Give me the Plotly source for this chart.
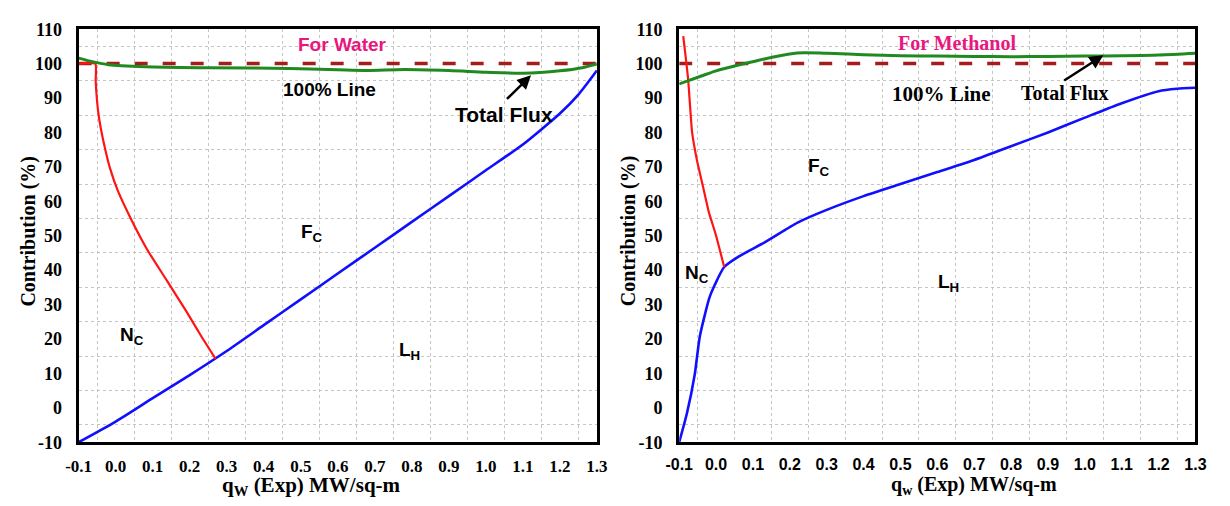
import plotly.graph_objects as go

# ---------------- data ----------------
x_ticks = [-0.1, 0.0, 0.1, 0.2, 0.3, 0.4, 0.5, 0.6, 0.7, 0.8, 0.9, 1.0, 1.1, 1.2, 1.3]
x_tick_text = ["-0.1", "0.0", "0.1", "0.2", "0.3", "0.4", "0.5", "0.6", "0.7", "0.8", "0.9", "1.0", "1.1", "1.2", "1.3"]
y_ticks = [-10, 0, 10, 20, 30, 40, 50, 60, 70, 80, 90, 100, 110]
y_tick_text = ["-10", "0", "10", "20", "30", "40", "50", "60", "70", "80", "90", "100", "110"]
x_grid = [-0.05, 0.05, 0.15, 0.25, 0.35, 0.45, 0.55, 0.65, 0.75, 0.85, 0.95, 1.05, 1.15, 1.25]
y_grid = [-5, 5, 15, 25, 35, 45, 55, 65, 75, 85, 95, 105]

ref_x = [-0.1, 1.3]
ref_y = [100, 100]

# Water
w_nc_x = [-0.1, -0.055, -0.054, -0.051, -0.046, -0.038, -0.028, -0.015, 0.006, 0.043, 0.085, 0.138, 0.191, 0.23, 0.27]
w_nc_y = [100, 100, 95, 90, 85, 80, 75, 69.5, 63, 54.5, 46, 37, 28, 21, 14.2]
w_lh_x = [-0.1, 0.0, 0.1, 0.2, 0.3, 0.4, 0.5, 0.6, 0.7, 0.8, 0.9, 1.0, 1.1, 1.2, 1.25, 1.3]
w_lh_y = [-10, -4, 2.8, 9.5, 16.5, 24, 31.5, 39, 46.5, 54, 61.5, 69, 76.5, 85.5, 91, 98]
w_tot_x = [-0.1, -0.06, -0.02, 0.08, 0.25, 0.47, 0.6, 0.68, 0.78, 0.9, 1.0, 1.1, 1.2, 1.26, 1.3]
w_tot_y = [101.6, 100.5, 99.7, 99.1, 98.8, 98.6, 98.2, 98.0, 98.3, 98.0, 97.5, 97.2, 97.9, 98.8, 99.9]

# Methanol
m_nc_x = [-0.089, -0.076, -0.065, -0.052, -0.036, -0.02, 0.0, 0.022]
m_nc_y = [108, 95.7, 80, 72, 64.5, 57, 50, 40.9]
m_lh_x = [-0.1, -0.079, -0.058, -0.044, -0.018, -0.004, 0.022, 0.062, 0.134, 0.221, 0.3, 0.4, 0.5, 0.6, 0.7, 0.8, 0.9, 1.0, 1.1, 1.2, 1.25, 1.3]
m_lh_y = [-10, -1.6, 9.6, 20.8, 32, 35.6, 40.9, 44, 48.2, 53.8, 57.5, 61.5, 65, 68.5, 72, 76, 80, 84.3, 88.5, 92, 92.7, 93]
m_tot_x = [-0.1, -0.04, 0.0, 0.05, 0.09, 0.15, 0.22, 0.3, 0.4, 0.5, 0.6, 0.7, 0.8, 0.9, 1.0, 1.1, 1.2, 1.3]
m_tot_y = [94.1, 96.4, 97.9, 99.3, 100.3, 101.8, 103.1, 103.0, 102.6, 102.3, 102.2, 102.1, 102.0, 102.1, 102.2, 102.3, 102.5, 103.0]

# ---------------- style ----------------
RED = "#ff1414"
BLUE = "#1010ff"
GREEN = "#208a20"
DASH = "#a51c1c"
PINK = "#e8177e"
SERIF = "Liberation Serif"
SANS = "Liberation Sans"

fig = go.Figure()


def add_panel(xa, ya, nc_x, nc_y, lh_x, lh_y, tot_x, tot_y):
    fig.add_trace(go.Scatter(x=ref_x, y=ref_y, mode="lines", xaxis=xa, yaxis=ya,
                             line=dict(color=DASH, width=3.5, dash="13px,15px")))
    fig.add_trace(go.Scatter(x=lh_x, y=lh_y, mode="lines", xaxis=xa, yaxis=ya,
                             line=dict(color=BLUE, width=2.6, shape="spline", smoothing=0.6)))
    fig.add_trace(go.Scatter(x=nc_x, y=nc_y, mode="lines", xaxis=xa, yaxis=ya,
                             line=dict(color=RED, width=2.2, shape="spline", smoothing=0.5)))
    fig.add_trace(go.Scatter(x=tot_x, y=tot_y, mode="lines", xaxis=xa, yaxis=ya,
                             line=dict(color=GREEN, width=3, shape="spline", smoothing=0.8)))


add_panel("x", "y", w_nc_x, w_nc_y, w_lh_x, w_lh_y, w_tot_x, w_tot_y)
add_panel("x2", "y2", m_nc_x, m_nc_y, m_lh_x, m_lh_y, m_tot_x, m_tot_y)


def bold(labels):
    return ["<b>" + s + "</b>" for s in labels]


def xaxis_cfg(domain, tick_family, tick_size, anchor):
    return dict(domain=domain, anchor=anchor, range=[-0.1, 1.3],
                tickmode="array", tickvals=x_ticks, ticktext=bold(x_tick_text),
                tickfont=dict(family=tick_family, size=tick_size, color="black"),
                showgrid=False, zeroline=False, showline=True, mirror=True,
                linewidth=3, linecolor="black", ticks="", ticklabelstandoff=6,
                minor=dict(tickvals=x_grid, showgrid=True, gridcolor="#c4c4c4",
                           griddash="dot", gridwidth=1, ticks=""))


def yaxis_cfg(anchor):
    return dict(domain=[0.1107, 0.9605], anchor=anchor, range=[-10, 110],
                tickmode="array", tickvals=y_ticks, ticktext=bold(y_tick_text),
                tickfont=dict(family=SERIF, size=18, color="black"),
                showgrid=False, zeroline=False, showline=True, mirror=True,
                linewidth=3, linecolor="black", ticks="", ticklabelstandoff=10,
                minor=dict(tickvals=y_grid, showgrid=True, gridcolor="#c4c4c4",
                           griddash="dot", gridwidth=1, ticks=""))


ann = []


def text(xref, yref, x, y, s, family, size, color="black"):
    ann.append(dict(xref=xref, yref=yref, x=x, y=y, text="<b>" + s + "</b>", showarrow=False,
                    font=dict(family=family, size=size, color=color),
                    xanchor="center", yanchor="middle"))


# Left panel texts
text("x", "y", 0.614, 105.6, "For Water", SANS, 19, PINK)
text("x", "y", 0.577, 92.5, "100% Line", SANS, 19)
text("x", "y", 1.05, 85.3, "Total Flux", SANS, 21)
text("x", "y", 0.53, 50.7, "F<sub>C</sub>", SANS, 19)
text("x", "y", 0.043, 20.8, "N<sub>C</sub>", SANS, 19)
text("x", "y", 0.794, 16.5, "L<sub>H</sub>", SANS, 19)
ann.append(dict(xref="x", yref="y", axref="x", ayref="y", x=1.122, y=96.6, ax=1.053, ay=89.3,
                text="", showarrow=True, arrowhead=2, arrowsize=1.1, arrowwidth=2.5, arrowcolor="black"))

# Right panel texts
text("x2", "y2", 0.652, 106.1, "For Methanol", SERIF, 20, PINK)
text("x2", "y2", 0.61, 91.3, "100% Line", SERIF, 21)
text("x2", "y2", 0.945, 91.5, "Total Flux", SERIF, 20)
text("x2", "y2", 0.28, 70.0, "F<sub>C</sub>", SANS, 19)
text("x2", "y2", -0.052, 39.0, "N<sub>C</sub>", SANS, 19)
text("x2", "y2", 0.63, 36.2, "L<sub>H</sub>", SANS, 19)
ann.append(dict(xref="x2", yref="y2", axref="x2", ayref="y2", x=1.05, y=102.4, ax=0.94, ay=94.8,
                text="", showarrow=True, arrowhead=2, arrowsize=1.1, arrowwidth=2.5, arrowcolor="black"))

# Axis titles
text("paper", "paper", 304 / 1230, 1 - 496 / 506, "q<sub>W</sub> (Exp) MW/sq-m", SERIF, 21)
text("paper", "paper", 980 / 1230, 1 - 495 / 506, "q<sub>w</sub> (Exp) MW/sq-m", SERIF, 20)
for xp in (15 / 1230, 628 / 1230):
    ann.append(dict(xref="paper", yref="paper", x=xp, y=1 - 230 / 506, text="<b>Contribution (%)</b>",
                    showarrow=False, textangle=-90, xanchor="center", yanchor="middle",
                    font=dict(family=SERIF, size=20, color="black")))

fig.update_layout(
    width=1230, height=506,
    margin=dict(l=0, r=0, t=0, b=0),
    paper_bgcolor="white", plot_bgcolor="white",
    showlegend=False,
    xaxis=xaxis_cfg([66 / 1230, 595 / 1230], SERIF, 17, "y"),
    yaxis=yaxis_cfg("x"),
    xaxis2=xaxis_cfg([679 / 1230, 1206 / 1230], SANS, 16, "y2"),
    yaxis2=yaxis_cfg("x2"),
    annotations=ann,
)

fig.write_html("out.html")
